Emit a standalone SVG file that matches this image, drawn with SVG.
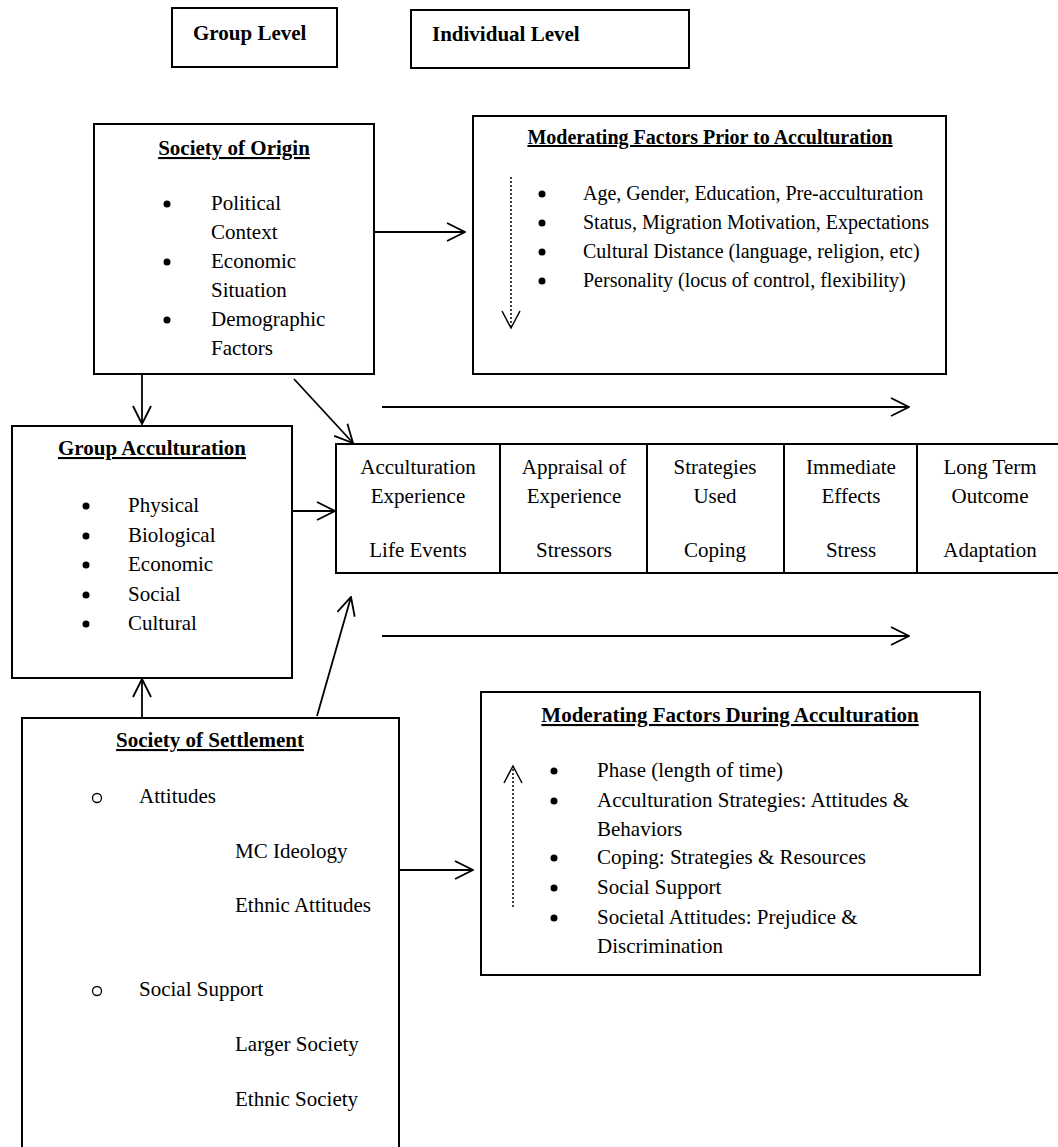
<svg xmlns="http://www.w3.org/2000/svg" width="1058" height="1147" viewBox="0 0 1058 1147">
<style>
text{font-family:"Liberation Serif","Times New Roman",serif;font-size:21px;fill:#000}
.b{font-weight:bold}
.u{font-weight:bold;text-decoration:underline}
.s20{font-size:20px}
.box{fill:#fff;stroke:#000;stroke-width:2}
.c{stroke:#000;stroke-width:1.8;fill:none}
.d{stroke:#000;stroke-width:1.5;fill:none;stroke-dasharray:2 2}
.m{text-anchor:middle}
.dot{fill:#000}
.ring{fill:none;stroke:#000;stroke-width:1.3}
</style>
<defs>
<marker id="ah" viewBox="0 0 20 20" refX="19" refY="10" markerWidth="20" markerHeight="20" markerUnits="userSpaceOnUse" orient="auto">
<path d="M1,1 L19,10 L1,19" fill="none" stroke="#000" stroke-width="1.8"/>
</marker>
</defs>
<rect width="1058" height="1147" fill="#fff"/>

<g id="group-level">
<rect class="box" x="172" y="8" width="165" height="59"/>
<text class="b" x="193" y="40">Group Level</text>
</g>
<g id="individual-level">
<rect class="box" x="411" y="10" width="278" height="58"/>
<text class="b" x="432" y="41">Individual Level</text>
</g>

<g id="society-of-origin">
<rect class="box" x="94" y="124" width="280" height="250"/>
<text class="u m" x="234" y="155">Society of Origin</text>
<circle class="dot" cx="167" cy="204" r="3.5"/>
<circle class="dot" cx="167" cy="262" r="3.5"/>
<circle class="dot" cx="167" cy="320" r="3.5"/>
<text x="211" y="210">Political</text>
<text x="211" y="239">Context</text>
<text x="211" y="268">Economic</text>
<text x="211" y="297">Situation</text>
<text x="211" y="326">Demographic</text>
<text x="211" y="355">Factors</text>
</g>

<g id="moderating-prior">
<rect class="box" x="473" y="116" width="473" height="258"/>
<text class="u m s20" x="710" y="144">Moderating Factors Prior to Acculturation</text>
<circle class="dot" cx="542" cy="194" r="3.5"/>
<circle class="dot" cx="542" cy="223" r="3.5"/>
<circle class="dot" cx="542" cy="252" r="3.5"/>
<circle class="dot" cx="542" cy="281" r="3.5"/>
<text class="s20" x="583" y="200">Age, Gender, Education, Pre-acculturation</text>
<text class="s20" x="583" y="229">Status, Migration Motivation, Expectations</text>
<text class="s20" x="583" y="258">Cultural Distance (language, religion, etc)</text>
<text class="s20" x="583" y="287">Personality (locus of control, flexibility)</text>
<line class="d" x1="511" y1="177" x2="511" y2="326"/>
<path d="M502,311 L511,328 L520,311" fill="none" stroke="#000" stroke-width="1.5"/>
</g>

<g id="group-acculturation">
<rect class="box" x="12" y="426" width="280" height="252"/>
<text class="u m" x="152" y="455">Group Acculturation</text>
<circle class="dot" cx="86" cy="506" r="3.5"/>
<circle class="dot" cx="86" cy="536" r="3.5"/>
<circle class="dot" cx="86" cy="565" r="3.5"/>
<circle class="dot" cx="86" cy="595" r="3.5"/>
<circle class="dot" cx="86" cy="624" r="3.5"/>
<text x="128" y="512">Physical</text>
<text x="128" y="542">Biological</text>
<text x="128" y="571">Economic</text>
<text x="128" y="601">Social</text>
<text x="128" y="630">Cultural</text>
</g>

<g id="process">
<rect class="box" x="336" y="444" width="730" height="129"/>
<line class="c" x1="500" y1="444" x2="500" y2="573" style="stroke-width:2"/>
<line class="c" x1="647" y1="444" x2="647" y2="573" style="stroke-width:2"/>
<line class="c" x1="784" y1="444" x2="784" y2="573" style="stroke-width:2"/>
<line class="c" x1="917" y1="444" x2="917" y2="573" style="stroke-width:2"/>
<text class="m" x="418" y="474">Acculturation</text>
<text class="m" x="418" y="503">Experience</text>
<text class="m" x="418" y="557">Life Events</text>
<text class="m" x="574" y="474">Appraisal of</text>
<text class="m" x="574" y="503">Experience</text>
<text class="m" x="574" y="557">Stressors</text>
<text class="m" x="715" y="474">Strategies</text>
<text class="m" x="715" y="503">Used</text>
<text class="m" x="715" y="557">Coping</text>
<text class="m" x="851" y="474">Immediate</text>
<text class="m" x="851" y="503">Effects</text>
<text class="m" x="851" y="557">Stress</text>
<text class="m" x="990" y="474">Long Term</text>
<text class="m" x="990" y="503">Outcome</text>
<text class="m" x="990" y="557">Adaptation</text>
</g>

<g id="society-of-settlement">
<rect class="box" x="22" y="718" width="377" height="440"/>
<text class="u m" x="210" y="747">Society of Settlement</text>
<circle class="ring" cx="97" cy="798" r="4.5"/>
<circle class="ring" cx="97" cy="991" r="4.5"/>
<text x="139" y="803">Attitudes</text>
<text x="235" y="858">MC Ideology</text>
<text x="235" y="912">Ethnic Attitudes</text>
<text x="139" y="996">Social Support</text>
<text x="235" y="1051">Larger Society</text>
<text x="235" y="1106">Ethnic Society</text>
</g>

<g id="moderating-during">
<rect class="box" x="481" y="692" width="499" height="283"/>
<text class="u m" x="730" y="722">Moderating Factors During Acculturation</text>
<circle class="dot" cx="554" cy="771" r="3.5"/>
<circle class="dot" cx="554" cy="801" r="3.5"/>
<circle class="dot" cx="554" cy="858" r="3.5"/>
<circle class="dot" cx="554" cy="888" r="3.5"/>
<circle class="dot" cx="554" cy="918" r="3.5"/>
<text x="597" y="777">Phase (length of time)</text>
<text x="597" y="807">Acculturation Strategies: Attitudes &amp;</text>
<text x="597" y="836">Behaviors</text>
<text x="597" y="864">Coping: Strategies &amp; Resources</text>
<text x="597" y="894">Social Support</text>
<text x="597" y="924">Societal Attitudes: Prejudice &amp;</text>
<text x="597" y="953">Discrimination</text>
<line class="d" x1="513" y1="907" x2="513" y2="769"/>
<path d="M504,783 L513,766 L522,783" fill="none" stroke="#000" stroke-width="1.5"/>
</g>

<g id="connectors">
<line class="c" x1="374" y1="232" x2="465" y2="232" marker-end="url(#ah)"/>
<line class="c" x1="142" y1="374" x2="142" y2="424" marker-end="url(#ah)"/>
<line class="c" x1="294" y1="379" x2="353" y2="443" marker-end="url(#ah)"/>
<line class="c" x1="382" y1="407" x2="909" y2="407" marker-end="url(#ah)"/>
<line class="c" x1="382" y1="636" x2="909" y2="636" marker-end="url(#ah)"/>
<line class="c" x1="293" y1="511" x2="335" y2="511" marker-end="url(#ah)"/>
<line class="c" x1="317" y1="716" x2="351" y2="597" marker-end="url(#ah)"/>
<line class="c" x1="142" y1="717" x2="142" y2="679" marker-end="url(#ah)"/>
<line class="c" x1="399" y1="870" x2="473" y2="870" marker-end="url(#ah)"/>
</g>
</svg>
